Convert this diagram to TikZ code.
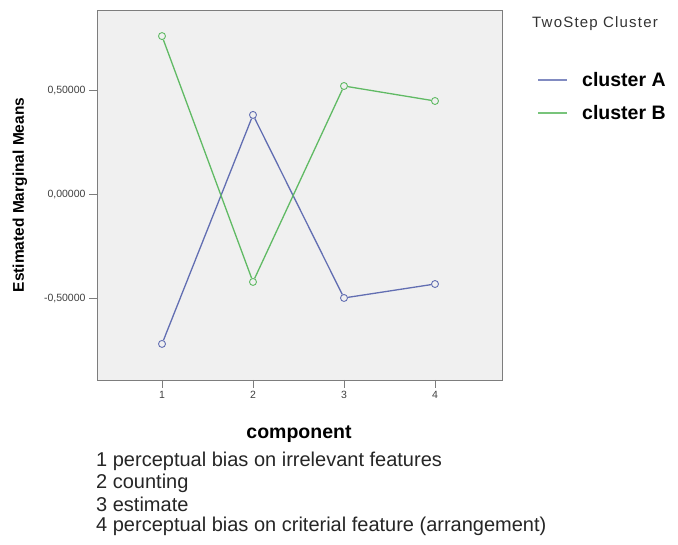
\documentclass[tikz,border=0pt]{standalone}
\usepackage{fontspec}
\setmainfont{Liberation Sans}
\usetikzlibrary{positioning}
\definecolor{clusterblue}{RGB}{98,110,178}
\definecolor{clustergreen}{RGB}{96,186,100}
\definecolor{plotbg}{RGB}{240,240,240}
\definecolor{framegray}{RGB}{125,125,125}

\begin{document}
\begin{tikzpicture}[x=1pt, y=-1pt,
  frame/.style={draw=framegray, line width=1.4pt, fill=plotbg},
  tick/.style={draw=framegray, line width=1pt},
  ticklabel/.style={font=\fontsize{10.5}{12}\selectfont, text=black!75},
  markA/.style={circle, draw=clusterblue, line width=0.9pt, inner sep=0pt, minimum size=7pt},
  markB/.style={circle, draw=clustergreen, line width=0.9pt, inner sep=0pt, minimum size=7pt},
  lineA/.style={draw=clusterblue, line width=1.3pt},
  lineB/.style={draw=clustergreen, line width=1.3pt},
  listline/.style={anchor=west, inner sep=0pt, font=\fontsize{20}{21}\selectfont, text=black!85}]
  \useasboundingbox[fill=white] (0,0) rectangle (678,545);

  % Plot area
  \node[frame, inner sep=0pt, minimum width=405pt, minimum height=370pt, anchor=north west] (plot) at (97,10) {};

  % Axis ticks and labels
  \foreach \v/\txt in {0.5/{0,50000}, 0/{0,00000}, -0.5/{-0,50000}} {
    \coordinate (yt) at (97,195-208*\v);
    \draw[tick] (yt) -- ++(-8,0) node[ticklabel, left, inner sep=3pt] {\txt};
  }
  \foreach \k in {1,...,4} {
    \coordinate (xt) at (162+91*\k-91,380);
    \draw[tick] (xt) -- ++(0,8) node[ticklabel, below, inner sep=3pt] {\k};
  }
  \node[rotate=90, font=\bfseries\fontsize{15.5}{17}\selectfont] (ylabel) at (20,195) {Estimated Marginal Means};

  % Data points
  \node[markA] (a1) at (162,195+208*0.716) {};
  \node[markA] (a2) at (253,195-208*0.385) {};
  \node[markA] (a3) at (344,195+208*0.495) {};
  \node[markA] (a4) at (435,195+208*0.428) {};
  \node[markB] (b1) at (162,195-208*0.764) {};
  \node[markB] (b2) at (253,195+208*0.418) {};
  \node[markB] (b3) at (344,195-208*0.524) {};
  \node[markB] (b4) at (435,195-208*0.452) {};

  % Lines
  \draw[lineA] (a1) -- (a2);
  \draw[lineA] (a2) -- (a3);
  \draw[lineA] (a3) -- (a4);
  \draw[lineB] (b1) -- (b2);
  \draw[lineB] (b2) -- (b3);
  \draw[lineB] (b3) -- (b4);

  % Legend
  \node[anchor=west, inner sep=0pt, font=\fontsize{15}{16}\selectfont\addfontfeatures{LetterSpace=8}, text=black!80] (legtitle) at (532,24) {TwoStep Cluster};
  \node[anchor=west, inner sep=0pt, font=\bfseries\fontsize{19.5}{20}\selectfont] (legA) at (582,80) {cluster A};
  \node[anchor=west, inner sep=0pt, font=\bfseries\fontsize{19.5}{20}\selectfont] (legB) at (582,113) {cluster B};
  \coordinate[left=44pt of legA.west] (legAstart);
  \coordinate[left=15pt of legA.west] (legAend);
  \coordinate[left=44pt of legB.west] (legBstart);
  \coordinate[left=15pt of legB.west] (legBend);
  \draw[draw=clusterblue!80, line width=2.2pt] (legAstart) -- (legAend);
  \draw[draw=clustergreen!85, line width=2.2pt] (legBstart) -- (legBend);

  % Component key
  \node[font=\bfseries\fontsize{19.5}{21}\selectfont] (xlabel) at (299,434) {component};
  \node[listline] (key1) at (96,461) {1 perceptual bias on irrelevant features};
  \node[listline] (key2) at (96,483) {2 counting};
  \node[listline] (key3) at (96,504) {3 estimate};
  \node[listline] (key4) at (96,526) {4 perceptual bias on criterial feature (arrangement)};
\end{tikzpicture}
\end{document}
